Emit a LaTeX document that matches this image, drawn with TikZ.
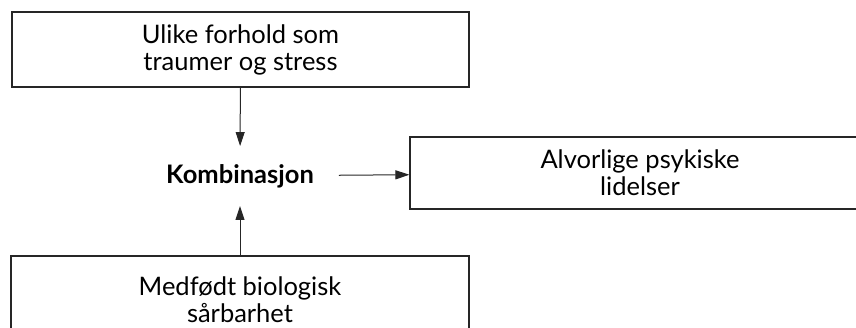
\documentclass[tikz,border=0pt]{standalone}
\usepackage{fontspec}
\setmainfont{Lato}
\usetikzlibrary{arrows.meta,positioning}

\begin{document}
\begin{tikzpicture}[x=1pt,y=-1pt,
  font=\fontsize{25.5}{27}\selectfont,
  box/.style={draw=black!85,line width=1.1pt,align=center,inner sep=0pt},
  mid/.style={font=\fontsize{25.5}{27}\selectfont\bfseries,inner xsep=25pt,inner ysep=18pt},
  ar/.style={-{Triangle[length=14pt,width=9pt]},black!85,line width=1pt}]
\useasboundingbox (0,0) rectangle (856,327);
\node[box,minimum width=457pt,minimum height=75pt] (cause) at (240.5,49.5)
  {Ulike forhold som\\traumer og stress};
\node[mid] (comb) at (240,176) {Kombinasjon};
\node[box,minimum width=460pt,minimum height=72pt] (result) at (640,173)
  {Alvorlige psykiske\\lidelser};
\node[box,minimum width=458pt,minimum height=88pt] (base) at (240,300)
  {Medfødt biologisk\\sårbarhet};
\draw[ar] (cause) -- (comb);
\draw[ar] (base) -- (comb);
\draw[ar] (comb) -- (result);
\end{tikzpicture}
\end{document}
